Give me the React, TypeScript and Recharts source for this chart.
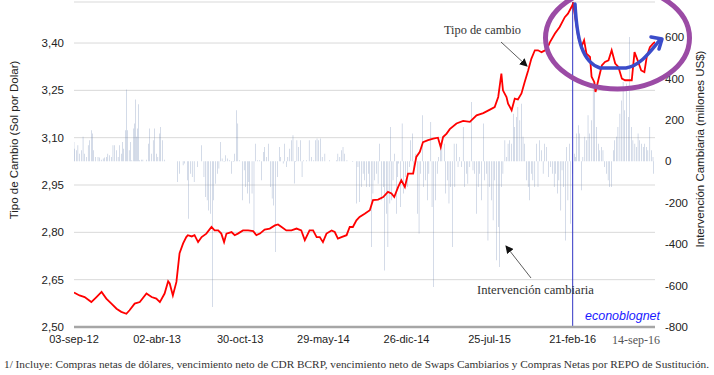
import {
  ComposedChart, Line, Bar, XAxis, YAxis, CartesianGrid, ReferenceLine
} from 'recharts'

// days counted from 03-sep-12
const X_TICKS = [0, 211, 422, 633, 844, 1055, 1266]
const X_LABELS = ['03-sep-12', '02-abr-13', '30-oct-13', '29-may-14', '26-dic-14', '25-jul-15', '21-feb-16']
const LEFT_TICKS = [2.5, 2.65, 2.8, 2.95, 3.1, 3.25, 3.4]
const RIGHT_TICKS = [-800, -600, -400, -200, 0, 200, 400, 600]

// tipo de cambio (sol por dolar): [day, value]
const RATE: [number, number][] = [
  [0, 2.609], [14, 2.600], [27, 2.595], [44, 2.579], [57, 2.595], [70, 2.611], [82, 2.590],
  [95, 2.574], [108, 2.558], [120, 2.548], [133, 2.542], [141, 2.553], [154, 2.574], [167, 2.579],
  [184, 2.606], [197, 2.595], [209, 2.590], [218, 2.579], [230, 2.606], [239, 2.645], [243, 2.638],
  [251, 2.600], [260, 2.643], [268, 2.734], [277, 2.765], [285, 2.785], [289, 2.791], [299, 2.787],
  [306, 2.791], [315, 2.769], [324, 2.785], [336, 2.796], [349, 2.817], [357, 2.806], [366, 2.806],
  [374, 2.796], [381, 2.769], [387, 2.796], [400, 2.801], [408, 2.791], [416, 2.796], [429, 2.806],
  [442, 2.806], [455, 2.804], [463, 2.791], [472, 2.796], [484, 2.809], [497, 2.812], [510, 2.822],
  [518, 2.825], [527, 2.817], [539, 2.806], [552, 2.806], [565, 2.812], [577, 2.806], [586, 2.775],
  [598, 2.806], [607, 2.806], [616, 2.785], [624, 2.785], [632, 2.769], [641, 2.796], [654, 2.806],
  [662, 2.801], [670, 2.780], [679, 2.785], [692, 2.791], [700, 2.817], [708, 2.817], [717, 2.838],
  [725, 2.849], [738, 2.859], [751, 2.870], [759, 2.902], [772, 2.904], [785, 2.912], [797, 2.928],
  [806, 2.923], [813, 2.912], [823, 2.944], [831, 2.965], [840, 2.944], [848, 2.986], [861, 2.986],
  [869, 3.039], [878, 3.055], [886, 3.086], [899, 3.092], [912, 3.097], [924, 3.100], [931, 3.070],
  [937, 3.102], [946, 3.113], [954, 3.127], [971, 3.145], [988, 3.153], [1005, 3.150], [1022, 3.171],
  [1039, 3.178], [1056, 3.189], [1068, 3.197], [1077, 3.229], [1085, 3.303], [1089, 3.250],
  [1098, 3.229], [1102, 3.208], [1111, 3.187], [1119, 3.224], [1127, 3.221], [1136, 3.240],
  [1144, 3.276], [1153, 3.313], [1161, 3.350], [1170, 3.377], [1178, 3.377], [1187, 3.371],
  [1200, 3.379], [1208, 3.402], [1221, 3.430], [1233, 3.451], [1246, 3.482], [1254, 3.493],
  [1263, 3.514], [1267, 3.525], [1271, 3.493], [1276, 3.451], [1280, 3.419], [1288, 3.387],
  [1295, 3.409], [1301, 3.366], [1310, 3.356], [1314, 3.293], [1321, 3.276], [1324, 3.245],
  [1331, 3.282], [1340, 3.329], [1348, 3.340], [1357, 3.345], [1365, 3.377], [1374, 3.335],
  [1382, 3.324], [1391, 3.287], [1399, 3.282], [1408, 3.282], [1416, 3.282], [1423, 3.371],
  [1431, 3.345], [1440, 3.313], [1448, 3.308], [1454, 3.356], [1462, 3.387], [1470, 3.398], [1475, 3.403],
]

// intervencion cambiaria (millones US$): [day, value]
const INTERVENTION: [number, number][] = [
  [0, 93], [2, 61], [6, 53], [10, 77], [14, 37], [19, 53], [23, 118], [27, 37], [31, 21], [36, 77],
  [40, 101], [44, 150], [47, 134], [50, 53], [55, 21], [61, 21], [65, 18], [69, 8], [74, 13], [78, 18],
  [82, 21], [86, 37], [91, 29], [95, 21], [99, 77], [103, 77], [108, 53], [112, 21], [116, 77], [120, 37],
  [123, 93], [126, 61], [130, 150], [133, 346], [136, 150], [140, 53], [143, 93], [147, 5], [152, 158],
  [154, 182], [156, 298], [158, 118], [161, 158], [164, 275], [167, 5], [171, 8], [175, 8], [184, 8],
  [190, 85], [192, 158], [196, 37], [201, 101], [205, 158], [209, 37], [213, 21], [218, 134], [220, 166],
  [224, 101], [229, 8],
  [262, -100], [268, -60], [277, -19], [281, -11], [288, -92], [291, -277], [296, -60], [300, -76],
  [305, -100], [313, -27], [323, 77], [330, -76], [334, -172], [338, -188], [342, -237], [347, -253],
  [351, -704], [355, -188], [359, -108], [364, -60], [368, -35], [372, 93], [376, 13], [381, -3],
  [385, 29], [389, 13], [394, 5], [400, -60], [404, -3], [408, 37], [412, 246], [416, 182], [421, 5],
  [427, -188], [432, -43], [435, -124], [440, -156], [444, -100], [446, -204], [452, -156], [457, -333],
  [460, 85], [466, 5], [471, 5], [476, -92], [482, 45],
  [484, 69], [488, 21], [493, 85], [499, -124], [503, -180], [507, -213], [511, -438], [516, -76],
  [521, 69], [525, 21], [531, -11], [535, 85], [539, -27], [543, 21], [548, 61], [552, 101], [556, 126],
  [559, -107], [562, -3], [566, 101], [570, 69], [575, 101], [579, -76], [583, 5], [590, 5], [597, 101],
  [603, 21], [609, 5], [614, 101], [617, 110], [621, 101], [626, 110], [630, 21], [637, 37], [649, 5],
  [666, 5], [670, 37], [675, 21], [679, 53], [683, 69], [687, 37], [693, 5], [708, -3],
  [717, -204], [721, -27], [725, -196], [730, -124], [734, -60], [738, -92], [742, -124], [747, -60],
  [751, -124], [755, -414], [759, -156], [763, -92], [768, -60], [772, -108], [776, 85], [780, -188],
  [785, -124], [789, -527], [793, -253], [797, -414], [802, -204], [804, 166], [807, -188], [810, -92],
  [814, 37], [819, -253], [821, -76], [824, -11], [829, -221], [833, 182], [837, -156], [842, -76],
  [846, -124], [851, -27], [855, 101], [859, 134], [863, -43], [868, 37], [872, -253], [876, -349],
  [880, -60], [884, 222], [888, -124], [892, -92], [897, -188], [901, -60], [906, 190], [909, -221],
  [913, -607], [918, -188], [922, -60], [926, 21], [930, 69], [934, 101], [940, 85], [944, -156],
  [948, -92], [952, -204], [956, -124], [961, -414], [965, 85],
  [967, -124], [971, 85], [975, -27], [979, 21], [984, -27], [988, 166], [992, -124], [996, -60],
  [1000, -108], [1005, -27], [1009, 286], [1013, -43], [1017, -60], [1022, -253], [1026, -124],
  [1030, -60], [1034, -188], [1039, 182], [1043, -92], [1047, -60], [1051, -382], [1055, -124],
  [1060, -188], [1064, -285], [1068, -92], [1072, -478], [1077, -317], [1081, -510], [1085, -124],
  [1089, -60], [1094, 101], [1098, 21], [1102, 85], [1106, 101], [1110, 85], [1115, 230], [1119, 166],
  [1123, 214], [1127, 262], [1132, 198], [1136, 278], [1140, 118], [1144, 85], [1149, -92], [1153, -124],
  [1157, -188], [1161, -60], [1165, -92], [1170, -124], [1174, 85], [1178, -124], [1182, 101], [1187, 53],
  [1191, -60], [1195, 85], [1199, 69], [1204, -76],
  [1210, -27], [1214, -60], [1219, -124], [1223, -60], [1227, -156], [1231, -92], [1236, -237],
  [1239, -43], [1243, -124], [1248, -382], [1251, 69], [1254, -188], [1258, 85], [1261, -301],
  [1265, -60], [1270, 37], [1273, 21], [1276, 134], [1280, 174], [1284, 134], [1288, -140], [1292, 21],
  [1297, 118], [1301, 101], [1305, 222], [1309, 134], [1314, 198], [1318, 383], [1322, 351], [1326, 166],
  [1331, 85], [1335, 53], [1339, 69], [1343, 53], [1347, -27], [1352, -60], [1356, -92], [1360, -124],
  [1364, -124], [1369, 53], [1373, 101], [1377, 118], [1381, 166], [1386, 230], [1390, 294], [1394, 383],
  [1398, 246], [1402, 375], [1407, 214], [1411, 600], [1415, 166], [1419, 101], [1424, 85], [1428, 69],
  [1432, 134], [1436, 101], [1441, 85], [1445, 69], [1449, 85], [1453, 69], [1457, 53], [1462, 166],
  [1466, 53], [1470, 21], [1472, -60],
]

type Row = { day: number; rate?: number; iv?: number }

function buildRows(): Row[] {
  const byDay = new Map<number, Row>()
  const get = (d: number) => {
    if (!byDay.has(d)) byDay.set(d, { day: d })
    return byDay.get(d)!
  }
  RATE.forEach(([d, v]) => { get(d).rate = v })
  INTERVENTION.forEach(([d, v]) => { get(d).iv = v })
  return [...byDay.values()].sort((a, b) => a.day - b.day)
}

const data = buildRows()

const SANS = 'Liberation Sans, Arial, sans-serif'
const SERIF = 'Liberation Serif, DejaVu Serif, serif'

export default function App() {
  return (
    <div style={{ position: 'absolute', left: 0, top: 0, width: 714, height: 375, background: '#fff' }}>
      <ComposedChart
        width={714} height={375} data={data}
        margin={{ top: 2, right: 0, left: 0, bottom: 18 }}
      >
        <CartesianGrid yAxisId="left" vertical={false} stroke="#d9d9d9" />
        <XAxis
          dataKey="day" type="number" domain={[0, 1475]} ticks={X_TICKS} height={30}
          tickFormatter={(v) => X_LABELS[X_TICKS.indexOf(v)] ?? ''}
          tick={{ fill: '#222', fontSize: 11, fontFamily: SANS }}
          tickLine={false} tickSize={0} tickMargin={8}
          axisLine={{ stroke: '#a6a6a6', strokeWidth: 2.5 }}
          allowDataOverflow
        />
        <YAxis
          yAxisId="left" domain={[2.5, 3.53]} ticks={LEFT_TICKS} width={74}
          tickFormatter={(v) => v.toFixed(2).replace('.', ',')}
          tick={{ fill: '#222', fontSize: 11.5, fontFamily: SANS }}
          tickLine={false} axisLine={false} tickSize={0} tickMargin={10}
          allowDataOverflow
        />
        <YAxis
          yAxisId="right" orientation="right" domain={[-800, 769]} ticks={RIGHT_TICKS} width={59}
          tick={{ fill: '#222', fontSize: 11.5, fontFamily: SANS }}
          tickLine={false} axisLine={false} tickSize={0} tickMargin={10}
          allowDataOverflow
        />
        <Bar
          yAxisId="right" dataKey="iv" barSize={1.6} fill="#7088b4" fillOpacity={0.85}
          isAnimationActive={false}
        />
        <ReferenceLine yAxisId="left" x={1266} stroke="#3236c4" strokeWidth={1} />
        <Line
          yAxisId="left" type="linear" dataKey="rate" stroke="#ff0000" strokeWidth={1.8}
          dot={false} connectNulls isAnimationActive={false}
        />
      </ComposedChart>

      <svg width={714} height={375} style={{ position: 'absolute', left: 0, top: 0, pointerEvents: 'none' }}>
        <defs>
          <marker id="ah" markerWidth="8" markerHeight="8" refX="7" refY="4" orient="auto" markerUnits="userSpaceOnUse">
            <path d="M0,0 L8,4 L0,8 z" fill="#111" />
          </marker>
        </defs>

        <text
          transform="translate(18,140) rotate(-90)" textAnchor="middle"
          fontFamily={SANS} fontSize={11.5} fill="#222"
        >Tipo de Cambio (Sol por Dolar)</text>
        <text
          transform="translate(704,149) rotate(-90)" textAnchor="middle"
          fontFamily={SANS} fontSize={11.5} fill="#222"
        >Intervención Cambiaria (millones US$)</text>

        <text x={444} y={34} fontFamily={SERIF} fontSize={12} fill="#333" textLength={77}
          lengthAdjust="spacingAndGlyphs">Tipo de cambio</text>
        <line x1={501} y1={42} x2={527} y2={66} stroke="#333" strokeWidth={0.8} markerEnd="url(#ah)" />

        <text x={477} y={294} fontFamily={SERIF} fontSize={12} fill="#333" textLength={117}
          lengthAdjust="spacingAndGlyphs">Intervención cambiaria</text>
        <line x1={531} y1={278} x2={506} y2={246} stroke="#333" strokeWidth={0.8} markerEnd="url(#ah)" />

        <text x={585} y={320} fontFamily={SANS} fontStyle="italic" fontSize={12.5} fill="#1a1aff"
          textLength={75} lengthAdjust="spacingAndGlyphs">econoblognet</text>

        <text x={636} y={344} textAnchor="middle" fontFamily={SERIF} fontSize={12} fill="#555">14-sep-16</text>

        <ellipse cx={617.5} cy={38} rx={72} ry={51} fill="none" stroke="#9b4ba5" strokeWidth={5} />
        <path
          d="M575,4 C577,40 582,62 600,68 L626,68 C640,66 650,52 659,41"
          fill="none" stroke="#3b4cca" strokeWidth={3.5} strokeLinecap="round"
        />
        <path d="M651,37 L662,39 L659,49" fill="none" stroke="#3b4cca" strokeWidth={3.5}
          strokeLinecap="round" strokeLinejoin="round" />

        <text x={4} y={368} fontFamily={SERIF} fontSize={11} fill="#333" textLength={705}
          lengthAdjust="spacingAndGlyphs">
          1/ Incluye: Compras netas de dólares, vencimiento neto de CDR BCRP, vencimiento neto de Swaps Cambiarios y Compras Netas por REPO  de Sustitución.
        </text>
      </svg>
    </div>
  )
}
